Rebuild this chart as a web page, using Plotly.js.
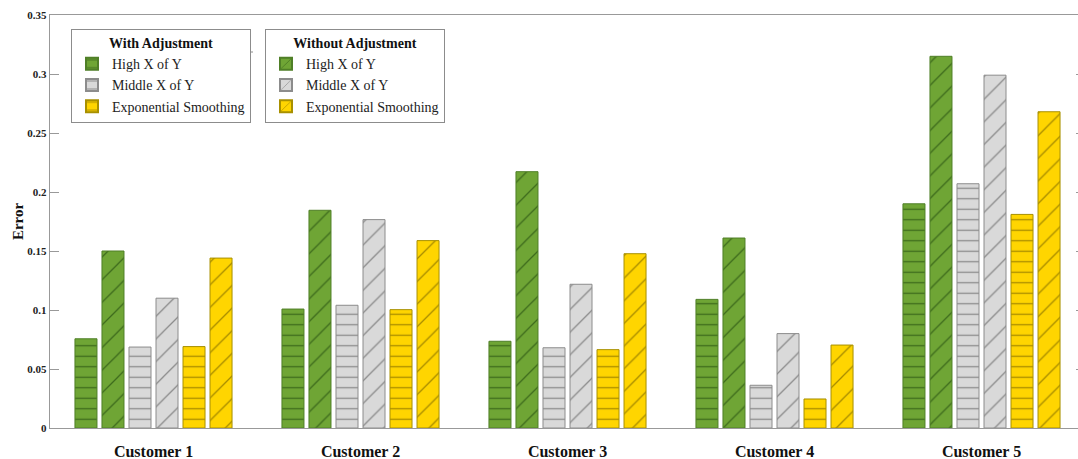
<!DOCTYPE html>
<html>
<head>
<meta charset="utf-8">
<script src="https://cdn.plot.ly/plotly-3.0.1.min.js"></script>
<style>
html,body{margin:0;padding:0;overflow:hidden;background:#fff;}
#chart{width:1086px;height:459px;}
</style>
</head>
<body>
<div id="chart"></div>
<script>
const customers = ['Customer 1', 'Customer 2', 'Customer 3', 'Customer 4', 'Customer 5'];
const withHigh = [0.0756, 0.1008, 0.0735, 0.109, 0.190];
const withMiddle = [0.0686, 0.104, 0.068, 0.0362, 0.207];
const withExp = [0.069, 0.1003, 0.0664, 0.0246, 0.181];
const withoutHigh = [0.150, 0.1845, 0.2172, 0.161, 0.315];
const withoutMiddle = [0.110, 0.1766, 0.1218, 0.080, 0.299];
const withoutExp = [0.144, 0.1588, 0.1477, 0.0703, 0.268];
const seriesNames = ['High X of Y', 'Middle X of Y', 'Exponential Smoothing'];

const fills = ['#6fa535', '#d9d9d9', '#ffd500'];
const hatch = ['#3d6a1c', '#8a8a8a', '#a68a00'];
const outline = ['#4f7f27', '#8c8c8c', '#a89000'];

function bar(y, i, shape, legend) {
  return {
    type: 'bar', x: customers, y: y, name: seriesNames[i], legend: legend,
    marker: {
      color: fills[i],
      line: {color: outline[i], width: 1},
      pattern: shape === '-' ?
        {shape: '-', bgcolor: fills[i], fgcolor: hatch[i], size: 10.5, solidity: 0.12, fillmode: 'replace'} :
        {shape: '/', bgcolor: fills[i], fgcolor: hatch[i], size: 16, solidity: 0.08, fillmode: 'replace'}
    },
    hoverinfo: 'x+y+name'
  };
}

const data = [
  bar(withHigh, 0, '-', 'legend'),
  bar(withoutHigh, 0, '/', 'legend2'),
  bar(withMiddle, 1, '-', 'legend'),
  bar(withoutMiddle, 1, '/', 'legend2'),
  bar(withExp, 2, '-', 'legend'),
  bar(withoutExp, 2, '/', 'legend2')
];

const serif = 'Liberation Serif, Times New Roman, serif';
const plotH = 413;
function py(px) { return (428 - px) / plotH; }
function pxX(px) { return (px - 50) / 1035; }

const legendBase = {
  bgcolor: '#ffffff', bordercolor: '#8c8c8c', borderwidth: 1,
  font: {family: serif, size: 14, color: '#222'},
  traceorder: 'normal', yanchor: 'top', xanchor: 'left',
  itemsizing: 'constant', itemwidth: 30,
  entrywidth: 150, entrywidthmode: 'pixels'
};

const layout = {
  width: 1086, height: 459,
  margin: {l: 50, r: 1, t: 15, b: 31},
  paper_bgcolor: '#fff', plot_bgcolor: '#fff',
  barmode: 'group', bargap: 0.217, bargroupgap: 0.185,
  font: {family: serif, color: '#111'},
  xaxis: {
    range: [-0.5, 4.5], showline: true, linecolor: '#999', linewidth: 1.2,
    mirror: true, ticks: '', showgrid: false, zeroline: false,
    ticklabelstandoff: 9,
    tickfont: {family: serif, size: 16, color: '#111', weight: 'bold'},
    fixedrange: true
  },
  yaxis: {
    range: [0, 0.35], dtick: 0.05, tick0: 0, showline: true, linecolor: '#999', linewidth: 1.2,
    mirror: 'ticks', ticks: 'inside', ticklen: 9, tickcolor: '#999',
    showgrid: false, zeroline: false,
    tickfont: {family: serif, size: 11, color: '#222', weight: 'bold'},
    title: {text: 'Error', font: {family: serif, size: 15, color: '#111', weight: 'bold'}, standoff: 0},
    fixedrange: true
  },
  showlegend: true,
  legend: Object.assign({}, legendBase, {
    x: pxX(71), y: py(29),
    title: {text: 'With Adjustment', side: 'top center', font: {family: serif, size: 14, weight: 'bold', color: '#111'}}
  }),
  legend2: Object.assign({}, legendBase, {
    x: pxX(265), y: py(29),
    title: {text: 'Without Adjustment', side: 'top center', font: {family: serif, size: 14, weight: 'bold', color: '#111'}}
  }),
  shapes: [
    {type: 'line', xref: 'paper', yref: 'paper', x0: pxX(71), x1: pxX(253), y0: py(52), y1: py(52), line: {color: '#8c8c8c', width: 1}, layer: 'above'},
    {type: 'line', xref: 'paper', yref: 'paper', x0: pxX(265), x1: pxX(444), y0: py(52), y1: py(52), line: {color: '#8c8c8c', width: 1}, layer: 'above'}
  ]
};

Plotly.newPlot('chart', data, layout, {displayModeBar: false, staticPlot: true});
</script>
</body>
</html>
